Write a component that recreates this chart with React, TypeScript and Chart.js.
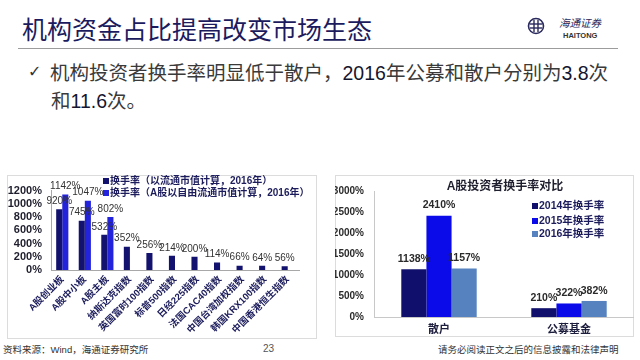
import React, { useEffect, useRef } from "react";
import { Chart, registerables } from "chart.js";

Chart.register(...registerables);

// ---------- data ----------
const leftCategories = [
  "A股创业板",
  "A股中小板",
  "A股主板",
  "纳斯达克指数",
  "英国富时100指数",
  "标普500指数",
  "日经225指数",
  "法国CAC40指数",
  "中国台湾加权指数",
  "韩国KRX100指数",
  "中国香港恒生指数",
];
const leftFloatCap = [920, 745, 532, 352, 256, 214, 200, 114, 66, 64, 56];
const leftFreeFloat = [1142, 1047, 802, null, null, null, null, null, null, null, null];
const leftLegend = ["换手率（以流通市值计算，2016年）", "换手率（A股以自由流通市值计算，2016年）"];
const leftMax = 1200;
const leftStep = 200;

const rightCategories = ["散户", "公募基金"];
const right2014 = [1138, 210];
const right2015 = [2410, 322];
const right2016 = [1157, 382];
const rightLegend = ["2014年换手率", "2015年换手率", "2016年换手率"];
const rightTitle = "A股投资者换手率对比";
const rightMax = 3000;
const rightStep = 500;

const FONT = "'Liberation Sans', 'Noto Sans CJK SC', sans-serif";

function valueLabels(font: string, color: string, offset: number) {
  return {
    id: "valueLabels",
    afterDatasetsDraw(chart: any) {
      const ctx = chart.ctx;
      ctx.save();
      ctx.font = font;
      ctx.fillStyle = color;
      ctx.textAlign = "center";
      ctx.textBaseline = "bottom";
      chart.data.datasets.forEach((ds: any, i: number) => {
        const meta = chart.getDatasetMeta(i);
        meta.data.forEach((el: any, j: number) => {
          const v = ds.data[j];
          if (v == null) return;
          ctx.fillText(v + "%", el.x, el.y - offset);
        });
      });
      ctx.restore();
    },
  };
}

function customLegend(
  x: number,
  ys: number[],
  font: string,
  textColor: string,
  box: number,
  title?: { text: string; x: number; y: number; font: string; color: string }
) {
  return {
    id: "customLegend",
    afterDraw(chart: any) {
      const ctx = chart.ctx;
      ctx.save();
      ctx.textBaseline = "middle";
      ctx.textAlign = "left";
      chart.data.datasets.forEach((ds: any, i: number) => {
        const y = ys[i];
        ctx.fillStyle = ds.backgroundColor;
        ctx.fillRect(x, y - box / 2, box, box);
        ctx.fillStyle = textColor;
        ctx.font = font;
        ctx.fillText(ds.label, x + box + 1, y + 0.5);
      });
      if (title) {
        ctx.font = title.font;
        ctx.fillStyle = title.color;
        ctx.textAlign = "center";
        ctx.fillText(title.text, title.x, title.y);
      }
      ctx.restore();
    },
  };
}

function LeftChart() {
  const ref = useRef<HTMLCanvasElement>(null);
  useEffect(() => {
    const chart = new Chart(ref.current!, {
      type: "bar",
      data: {
        labels: leftCategories,
        datasets: [
          { label: leftLegend[0], data: leftFloatCap, backgroundColor: "#13126e" },
          { label: leftLegend[1], data: leftFreeFloat as any, backgroundColor: "#2323dc" },
        ],
      },
      options: {
        animation: false,
        responsive: false,
        layout: { padding: { top: 14, right: 19, bottom: 2, left: 0 } },
        datasets: { bar: { categoryPercentage: 0.54, barPercentage: 1 } },
        plugins: { legend: { display: false }, tooltip: { enabled: false } },
        scales: {
          x: {
            grid: { display: false, drawTicks: false },
            border: { display: true, color: "#a8a8a8" },
            ticks: {
              autoSkip: false,
              minRotation: 45,
              maxRotation: 45,
              padding: 4,
              color: "#1c1c5c",
              font: { family: FONT, size: 9.5, weight: "bold" },
            },
            afterFit: (s: any) => {
              s.height = 68;
            },
          },
          y: {
            min: 0,
            max: leftMax,
            grid: { display: false, drawTicks: false },
            border: { display: true, color: "#a8a8a8" },
            ticks: {
              stepSize: leftStep,
              autoSkip: false,
              padding: 9,
              color: "#1e1e2e",
              font: { family: FONT, size: 11, weight: "bold" },
              callback: (v: any) => v + "%",
            },
            afterFit: (s: any) => {
              s.width = 43;
            },
          },
        },
      } as any,
      plugins: [
        valueLabels(`10px ${FONT}`, "#333333", 3),
        customLegend(95, [6, 18], `bold 10px ${FONT}`, "#1c1c5c", 6),
      ],
    });
    return () => chart.destroy();
  }, []);
  return <canvas ref={ref} width={310} height={165} style={{ width: 310, height: 165, display: "block" }} />;
}

function RightChart() {
  const ref = useRef<HTMLCanvasElement>(null);
  useEffect(() => {
    const chart = new Chart(ref.current!, {
      type: "bar",
      data: {
        labels: rightCategories,
        datasets: [
          { label: rightLegend[0], data: right2014, backgroundColor: "#10106c" },
          { label: rightLegend[1], data: right2015, backgroundColor: "#0b0bea" },
          { label: rightLegend[2], data: right2016, backgroundColor: "#5682c0" },
        ],
      },
      options: {
        animation: false,
        responsive: false,
        layout: { padding: { top: 7, right: 0, bottom: 0, left: 0 } },
        datasets: { bar: { categoryPercentage: 0.58, barPercentage: 1 } },
        plugins: { legend: { display: false }, tooltip: { enabled: false } },
        scales: {
          x: {
            grid: { display: false, drawTicks: false },
            border: { display: true, color: "#c8c8c8" },
            ticks: {
              padding: 6,
              color: "#1c1c3c",
              font: { family: FONT, size: 11, weight: "bold" },
            },
            afterFit: (s: any) => {
              s.height = 20;
            },
          },
          y: {
            min: 0,
            max: rightMax,
            grid: { display: false, drawTicks: false },
            border: { display: true, color: "#c8c8c8" },
            ticks: {
              stepSize: rightStep,
              autoSkip: false,
              padding: 10,
              color: "#2a2a2a",
              font: { family: FONT, size: 10, weight: "bold" },
              callback: (v: any) => v + "%",
            },
            afterFit: (s: any) => {
              s.width = 39;
            },
          },
        },
      } as any,
      plugins: [
        valueLabels(`bold 10.5px ${FONT}`, "#2a2a2a", 5),
        customLegend(197, [31, 46, 59], `bold 10.5px ${FONT}`, "#1c1c5c", 6, {
          text: rightTitle,
          x: 170,
          y: 12,
          font: `bold 12px ${FONT}`,
          color: "#1e1e2e",
        }),
      ],
    });
    return () => chart.destroy();
  }, []);
  return <canvas ref={ref} width={299} height={162} style={{ width: 299, height: 162, display: "block" }} />;
}

const abs = (l: number, t: number, extra: any = {}) => ({
  position: "absolute" as const,
  left: l,
  top: t,
  whiteSpace: "nowrap" as const,
  ...extra,
});

export default function App() {
  const cjk = "'Noto Sans CJK SC', sans-serif";
  const num = "'Liberation Sans', 'Noto Sans CJK SC', sans-serif";
  return (
    <div
      style={{
        position: "fixed",
        left: 0,
        top: 0,
        width: 640,
        height: 360,
        background: "#ffffff",
        overflow: "hidden",
        fontFamily: cjk,
      }}
    >
      <div style={abs(22, 13, { fontSize: 25, lineHeight: "30px", color: "#1b1b5e" })}>
        机构资金占比提高改变市场生态
      </div>
      <div style={abs(18, 48, { width: 600, borderTop: "1.5px solid #9c9c9c" })} />
      <svg style={abs(527, 17)} width={18} height={18} viewBox="0 0 18 18">
        <circle cx={9} cy={9} r={7.5} fill="none" stroke="#2a2a5e" strokeWidth={1.6} />
        <line x1={3} y1={7} x2={15} y2={7} stroke="#2a2a5e" strokeWidth={1.4} />
        <line x1={3} y1={11} x2={15} y2={11} stroke="#2a2a5e" strokeWidth={1.4} />
        <line x1={7} y1={3} x2={7} y2={15} stroke="#2a2a5e" strokeWidth={1.4} />
        <line x1={11} y1={3} x2={11} y2={15} stroke="#2a2a5e" strokeWidth={1.4} />
      </svg>
      <div style={abs(559, 17, { fontSize: 10.5, lineHeight: "12px", color: "#2a2a5e", fontStyle: "italic" })}>
        海通证券
      </div>
      <div style={abs(563, 31, { fontSize: 7.5, lineHeight: "9px", color: "#333", fontWeight: "bold", fontFamily: num })}>
        HAITONG
      </div>

      <div style={abs(28, 61, { fontSize: 16, lineHeight: "22px", color: "#333", fontFamily: "'DejaVu Sans', sans-serif" })}>
        ✓
      </div>
      <div style={abs(50, 60, { fontSize: 19.5, lineHeight: "24px", color: "#3a3a3a" })}>
        机构投资者换手率明显低于散户，<span style={{ fontFamily: num, color: "#15152e" }}>2016</span>
        年公募和散户分别为<span style={{ fontFamily: num, color: "#15152e" }}>3.8</span>次
      </div>
      <div style={abs(51, 88, { fontSize: 19.5, lineHeight: "24px", color: "#3a3a3a" })}>
        和<span style={{ fontFamily: num, color: "#15152e" }}>11.6</span>次。
      </div>

      <div style={abs(7, 175, { border: "1px solid #dcdcdc", width: 310, height: 164, boxSizing: "border-box" })} />
      <div style={abs(335, 175, { border: "1px solid #dcdcdc", width: 299, height: 162, boxSizing: "border-box" })} />
      <div style={abs(8, 175)}>
        <LeftChart />
      </div>
      <div style={abs(335, 175)}>
        <RightChart />
      </div>

      <div style={abs(3, 343, { fontSize: 9.5, lineHeight: "12px", color: "#333" })}>
        资料来源：<span style={{ fontFamily: num }}>Wind</span>，海通证券研究所
      </div>
      <div style={abs(263, 343, { fontSize: 10, lineHeight: "12px", color: "#555", fontFamily: num })}>23</div>
      <div style={abs(438, 343, { fontSize: 9.5, lineHeight: "12px", color: "#333" })}>
        请务必阅读正文之后的信息披露和法律声明
      </div>
    </div>
  );
}
